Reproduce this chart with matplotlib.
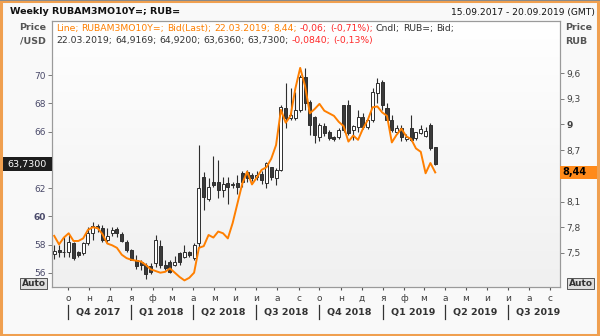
import matplotlib
matplotlib.use('Agg')
import matplotlib.pyplot as plt
import matplotlib.dates as mdates
import matplotlib.transforms as mtransforms
from matplotlib.patches import Rectangle
from matplotlib.colors import LinearSegmentedColormap
import numpy as np
from datetime import date, timedelta

# ---------------- data ----------------
first_week = date(2017, 9, 11)
n_weeks = 80
weeks = [first_week + timedelta(weeks=i) for i in range(n_weeks)]

opens = [57.33, 57.60, 57.50, 57.50, 58.10, 57.50, 57.40, 58.10, 58.80, 59.35,
         59.15, 58.35, 58.80, 59.10, 58.75, 58.20, 57.62, 56.95, 56.80, 56.60,
         56.50, 56.70, 57.90, 56.60, 56.80, 56.60, 57.40, 57.15, 57.45, 57.05,
         58.10, 62.80, 61.20, 62.40, 62.46, 61.85, 62.35, 62.20, 62.35, 63.10,
         63.15, 62.95, 62.80, 63.00, 62.35, 63.50, 62.70, 63.28, 67.64, 66.95,
         66.93, 67.52, 69.88, 68.11, 67.05, 65.64, 66.40, 65.99, 65.60, 65.64,
         67.88, 67.90, 66.10, 66.35, 67.05, 66.35, 66.80, 68.70, 69.53, 67.64,
         66.82, 66.00, 66.23, 65.50, 66.23, 65.52, 65.90, 65.70, 66.46, 64.9169]
highs = [57.98, 57.95, 58.56, 58.68, 58.21, 57.55, 58.21, 59.25, 59.62, 59.50,
         59.40, 59.20, 59.27, 59.27, 58.87, 58.30, 57.70, 57.27, 56.90, 56.70,
         56.70, 58.70, 58.33, 56.90, 56.90, 57.20, 57.50, 57.98, 57.55, 58.10,
         65.05, 63.16, 62.70, 64.30, 64.00, 62.81, 62.81, 62.45, 62.93, 63.20,
         63.25, 63.10, 63.20, 63.20, 63.87, 63.52, 63.40, 67.88, 69.41, 69.06,
         68.82, 70.00, 70.47, 68.23, 67.10, 66.58, 66.60, 66.11, 65.70, 66.23,
         67.90, 68.23, 66.50, 67.52, 67.30, 66.90, 69.06, 69.77, 69.65, 67.99,
         67.17, 66.50, 66.50, 65.80, 67.17, 66.00, 66.50, 66.30, 66.58, 64.92]
lows = [56.99, 57.15, 57.15, 57.15, 56.91, 57.15, 57.27, 57.97, 58.33, 58.90,
        58.20, 58.20, 58.60, 58.56, 58.20, 57.50, 56.90, 56.30, 56.20, 55.60,
        55.90, 56.45, 56.33, 56.20, 56.00, 56.50, 56.60, 57.03, 57.10, 56.95,
        57.86, 60.45, 61.10, 62.10, 61.30, 61.40, 60.90, 62.00, 61.60, 62.10,
        62.40, 62.50, 62.60, 62.30, 61.98, 62.57, 62.22, 63.20, 66.23, 66.80,
        66.80, 67.40, 67.52, 65.76, 65.17, 65.30, 65.70, 65.40, 65.30, 65.50,
        65.99, 65.76, 65.40, 66.00, 66.20, 66.20, 66.70, 68.00, 67.52, 66.82,
        66.00, 65.80, 65.30, 65.30, 65.35, 65.40, 65.80, 65.60, 64.70, 63.636]
closes = [57.57, 57.45, 57.45, 58.20, 57.05, 57.25, 58.10, 58.80, 59.35, 59.15,
          58.33, 58.60, 59.04, 58.80, 58.25, 57.60, 56.91, 56.50, 56.55, 55.90,
          56.10, 58.30, 56.60, 56.35, 56.10, 56.80, 56.75, 57.50, 57.30, 58.00,
          61.98, 61.40, 62.10, 62.25, 61.87, 62.30, 62.10, 62.30, 62.10, 62.45,
          62.70, 62.75, 62.95, 62.60, 63.75, 62.80, 63.28, 67.76, 66.93, 67.20,
          67.52, 69.88, 68.00, 66.46, 65.76, 66.46, 65.90, 65.52, 65.50, 66.11,
          66.11, 65.87, 66.40, 67.05, 66.35, 66.80, 68.80, 69.41, 67.88, 66.82,
          66.11, 66.23, 65.64, 65.60, 65.40, 65.99, 66.20, 66.05, 64.81, 63.73]

yield_line = [7.70, 7.60, 7.68, 7.73, 7.64, 7.64, 7.67, 7.77, 7.80, 7.79,
              7.72, 7.61, 7.59, 7.56, 7.48, 7.44, 7.42, 7.41, 7.40, 7.36,
              7.31, 7.29, 7.27, 7.28, 7.32, 7.27, 7.22, 7.18, 7.21, 7.27,
              7.56, 7.58, 7.71, 7.68, 7.75, 7.73, 7.67, 7.85, 8.08, 8.31,
              8.45, 8.30, 8.38, 8.47, 8.50, 8.60, 8.76, 9.17, 9.02, 9.10,
              9.42, 9.66, 9.45, 9.13, 9.18, 9.24, 9.16, 9.13, 9.10, 9.03,
              8.98, 8.80, 8.87, 8.82, 8.95, 9.05, 9.20, 9.21, 9.14, 9.10,
              8.79, 8.88, 8.95, 8.86, 8.83, 8.72, 8.68, 8.43, 8.55, 8.44]

left_ticks = [56, 58, 60, 62, 66, 68, 70]
right_ticks = [7.5, 7.8, 8.1, 8.7, 9.0, 9.3, 9.6]
month_letters = ['о', 'н', 'д', 'я', 'ф', 'м', 'а', 'м', 'и', 'и', 'а', 'с',
                 'о', 'н', 'д', 'я', 'ф', 'м', 'а', 'м', 'и', 'и', 'а', 'с']
quarter_names = ['Q4 2017', 'Q1 2018', 'Q2 2018', 'Q3 2018',
                 'Q4 2018', 'Q1 2019', 'Q2 2019', 'Q3 2019']

# ---------------- figure ----------------
plt.rcParams['font.family'] = ['DejaVu Sans']
W, H = 600, 336
fig = plt.figure(figsize=(W / 100, H / 100), dpi=100)
fig.patch.set_facecolor('#f9f9f9')

def fx(x):
    return x / W

def fy(y):
    return 1 - y / H

ax = fig.add_axes([fx(52), fy(287), 508 / W, 266 / H])
ax.set_facecolor('white')

xd = mdates.date2num(weeks)
oct1 = mdates.date2num(date(2017, 10, 1))
px_per_day = 0.689
ax.set_xlim(oct1 - 16 / px_per_day, oct1 + 492 / px_per_day)
ax.set_ylim(55.01, 73.82)

# gradient background
grad = np.linspace(0, 1, 256).reshape(-1, 1)
cm = LinearSegmentedColormap.from_list('bg', ['#f0f0f0', '#ffffff'])
ax.imshow(grad, extent=[0, 1, 0, 1], transform=ax.transAxes, cmap=cm,
          aspect='auto', origin='lower', zorder=0)

# candles
o = np.array(opens); c = np.array(closes); h = np.array(highs); l = np.array(lows)
up = c >= o
body_lo = np.minimum(o, c)
body_h = np.maximum(np.abs(c - o), 0.06)
ax.vlines(xd, l, h, color='#2e2e2e', linewidth=0.8, zorder=2)
ax.bar(xd[up], body_h[up], bottom=body_lo[up], width=4.4,
       facecolor='white', edgecolor='#2e2e2e', linewidth=0.7, zorder=3)
ax.bar(xd[~up], body_h[~up], bottom=body_lo[~up], width=4.4,
       facecolor='#3a3a3a', edgecolor='#2e2e2e', linewidth=0.7, zorder=3)

# line on right axis
ax2 = ax.twinx()
ax2.set_ylim(7.103, 10.207)
ax2.plot(xd, yield_line, color='#FF7F00', linewidth=1.4, zorder=4)

# spines
for a in (ax, ax2):
    for s in a.spines.values():
        s.set_color('#9a9a9a')
        s.set_linewidth(0.8)

# left ticks
ax.set_yticks(left_ticks)
ax.set_yticklabels([str(v) for v in left_ticks])
ax.tick_params(axis='y', length=3, width=0.6, color='#666666', labelsize=6.5,
               labelcolor='#4a4a6a', pad=1.5)
for t in ax.get_yticklabels():
    if t.get_text() == '60':
        t.set_fontweight('bold')

# right ticks
def fmt(v):
    s = ('%.1f' % v).replace('.', ',')
    return s[:-2] if s.endswith(',0') else s
ax2.set_yticks(right_ticks)
ax2.set_yticklabels([fmt(v) for v in right_ticks])
ax2.tick_params(axis='y', length=3, width=0.6, color='#666666', labelsize=6.5,
                labelcolor='#404040', pad=1.5)
for t in ax2.get_yticklabels():
    if t.get_text() == '9':
        t.set_fontweight('bold')

# month ticks
month_starts = []
yy, mm = 2017, 10
for k in range(len(month_letters)):
    month_starts.append(mdates.date2num(date(yy, mm, 1)))
    mm += 1
    if mm > 12:
        mm = 1; yy += 1
ax.set_xticks(month_starts)
ax.set_xticklabels(month_letters)
ax.tick_params(axis='x', length=2, width=0.8, color='#555555', labelsize=6.5,
               labelcolor='#404040', pad=3)

# quarter labels
blend = mtransforms.blended_transform_factory(ax.transData, ax.transAxes)
for k, name in enumerate(quarter_names):
    qx = month_starts[3 * k]
    y0 = (287 - 305) / 266
    y1 = (287 - 319) / 266
    ax.plot([qx, qx], [y0, y1], transform=blend, color='#333333', lw=0.9,
            clip_on=False)
    ax.text(qx + 8 / px_per_day, (287 - 312) / 266, name, transform=blend,
            ha='left', va='center', fontsize=6.8, fontweight='bold', color='#333333',
            clip_on=False)

# ---------------- header texts ----------------
fig.text(fx(10), fy(12), 'Weekly RUBAM3MO10Y=; RUB=', fontsize=6.8,
         fontweight='bold', color='#111111', va='center', ha='left')
fig.text(fx(595), fy(12), '15.09.2017 - 20.09.2019 (GMT)', fontsize=6.6,
         color='#111111', va='center', ha='right')
fig.text(fx(46), fy(27), 'Price', fontsize=6.8, fontweight='bold',
         color='#555555', va='center', ha='right')
fig.text(fx(46), fy(41), '/USD', fontsize=6.8, fontweight='bold',
         color='#555555', va='center', ha='right')
fig.text(fx(565), fy(27), 'Price', fontsize=6.8, fontweight='bold',
         color='#555555', va='center', ha='left')
fig.text(fx(565), fy(41), 'RUB', fontsize=6.8, fontweight='bold',
         color='#555555', va='center', ha='left')

renderer = fig.canvas.get_renderer()
fs_leg = 6.65

def text_w(s):
    t = fig.text(0, 0, s, fontsize=fs_leg)
    w = t.get_window_extent(renderer).width
    t.remove()
    return w

space_w = text_w('x x') - text_w('xx')

def seq_text(x, y, pieces):
    for s, col in pieces:
        parts = s.split(' ')
        for j, p in enumerate(parts):
            if p:
                t = fig.text(fx(x), fy(y), p, fontsize=fs_leg, color=col,
                             va='center', ha='left')
                x += t.get_window_extent(renderer).width
            if j < len(parts) - 1:
                x += space_w

ORANGE = '#FF7F00'
RED = '#FF2A2A'
DARK = '#333333'
seq_text(56, 28, [('Line; RUBAM3MO10Y=; Bid(Last); 22.03.2019; 8,44; ', ORANGE),
                  ('-0,06; (-0,71%); ', RED),
                  ('Cndl; RUB=; Bid;', DARK)])
seq_text(56, 41, [('22.03.2019; 64,9169; 64,9200; 63,6360; 63,7300; ', DARK),
                  ('-0,0840; (-0,13%)', RED)])

# current value labels
fig.patches.append(Rectangle((fx(3), fy(171)), fx(49), 14 / H, transform=fig.transFigure,
                             facecolor='#1e1e1e', edgecolor='none', zorder=5))
fig.text(fx(27.5), fy(164), '63,7300', fontsize=6.8, color='white',
         va='center', ha='center', zorder=6)
fig.patches.append(Rectangle((fx(560), fy(179)), fx(37), 13 / H, transform=fig.transFigure,
                             facecolor='#FF8A1A', edgecolor='none', zorder=5))
fig.text(fx(562), fy(172.5), '8,44', fontsize=7, fontweight='bold', color='#000000',
         va='center', ha='left', zorder=6)

# Auto buttons
for (x0, y0) in [(20, 278), (567, 278)]:
    fig.patches.append(Rectangle((fx(x0), fy(y0 + 11)), fx(27), 11 / H,
                                 transform=fig.transFigure, facecolor='#dedede',
                                 edgecolor='#555555', linewidth=0.7, zorder=5))
    fig.text(fx(x0 + 13.5), fy(y0 + 5.5), 'Auto', fontsize=6.5, fontweight='bold',
             color='#333333', va='center', ha='center', zorder=6)

# outer frame
fig.patches.append(Rectangle((0.002, 0.004), 0.995, 0.993, transform=fig.transFigure,
                             facecolor='none', edgecolor='#F0A050', linewidth=2.2,
                             zorder=10))
fig.patches.append(Rectangle((0, fy(1.2)), 1, 1.2 / H, transform=fig.transFigure,
                             facecolor='#8a8a8a', edgecolor='none', zorder=11))

fig.savefig('out.png', dpi=100, facecolor=fig.get_facecolor())
